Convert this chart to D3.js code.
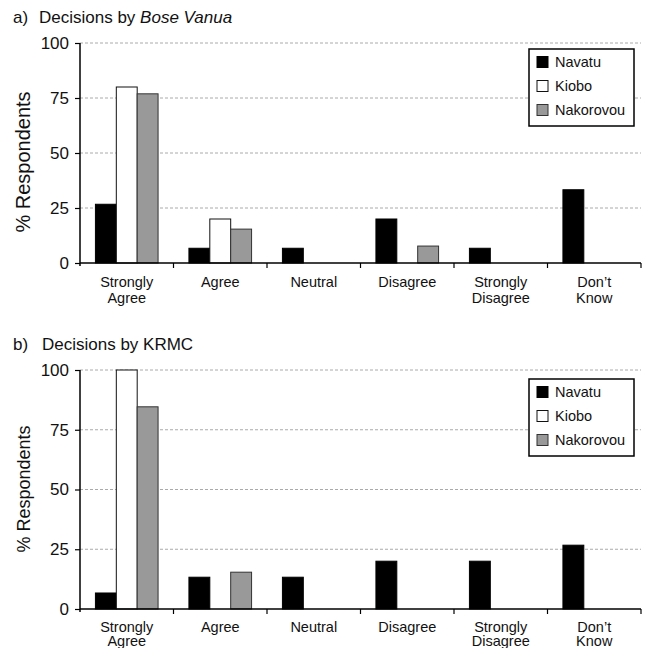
<!DOCTYPE html>
<html>
<head>
<meta charset="utf-8">
<script src="https://cdn.jsdelivr.net/npm/d3@7"></script>
<style>
  body { margin: 0; background: #fff; }
  svg text { font-family: "Liberation Sans", Arial, sans-serif; fill: #111; }
</style>
</head>
<body>
<div id="chart"></div>
<script>
'use strict'

// categories (second entry = optional second label line)
const categories = ['Strongly Agree', 'Agree', 'Neutral', 'Disagree', 'Strongly Disagree', "Don't Know"]
const categoryLines = [['Strongly', 'Agree'], ['Agree'], ['Neutral'], ['Disagree'], ['Strongly', 'Disagree'], ['Don\u2019t', 'Know']]
const series = ['Navatu', 'Kiobo', 'Nakorovou']
const yTicks = [0, 25, 50, 75, 100]

// a) Decisions by Bose Vanua
const boseNavatu = [26.7, 6.7, 6.7, 20, 6.7, 33.3]
const boseKiobo = [80, 20, 0, 0, 0, 0]
const boseNakorovou = [76.9, 15.4, 0, 7.7, 0, 0]

// b) Decisions by KRMC
const krmcNavatu = [6.7, 13.3, 13.3, 20, 20, 26.7]
const krmcKiobo = [100, 0, 0, 0, 0, 0]
const krmcNakorovou = [84.6, 15.4, 0, 0, 0, 0]

const fills = { Navatu: '#000000', Kiobo: '#ffffff', Nakorovou: '#999999' }
const strokes = { Navatu: '#000000', Kiobo: '#111111', Nakorovou: '#333333' }

const svgWidth = 646, svgHeight = 648

const svg = d3.select('#chart')
    .append('svg')
    .attr('width', svgWidth)
    .attr('height', svgHeight)

////////////////////////////////////
//////////// panels ////////////////
////////////////////////////////////

const panels = [
    { label: 'a)', title: ['Decisions by ', 'Bose Vanua'], titleY: 23, titleX: 39,
      values: [boseNavatu, boseKiobo, boseNakorovou],
      top: 43, bottom: 263, yLabelY: 162, yLabelSize: 20, legendTop: 49,
      catOffset: 24, catLine: 16 },
    { label: 'b)', title: ['Decisions by KRMC', ''], titleY: 350, titleX: 42,
      values: [krmcNavatu, krmcKiobo, krmcNakorovou],
      top: 370, bottom: 609, yLabelY: 489, yLabelSize: 18, legendTop: 379,
      catOffset: 22.5, catLine: 14.5 }
]

const left = 80, right = 641

panels.forEach(p => {
    const g = svg.append('g')

    const x = d3.scaleBand()
        .domain(categories)
        .range([left, right])
        .paddingInner(0.33)
        .paddingOuter(0.165)

    const xs = d3.scaleBand()
        .domain(series)
        .range([0, x.bandwidth()])

    const y = d3.scaleLinear()
        .domain([0, 100])
        .range([p.bottom, p.top])

    // title
    const t = g.append('text')
        .attr('y', p.titleY)
        .style('font-size', '17px')
    t.append('tspan').attr('x', 13).text(p.label)
    t.append('tspan').attr('x', p.titleX).text(p.title[0])
    t.append('tspan').style('font-style', 'italic').text(p.title[1])

    // dashed grid
    g.append('g')
        .selectAll('line')
        .data(yTicks.filter(d => d > 0))
        .join('line')
        .attr('x1', left)
        .attr('x2', right)
        .attr('y1', d => y(d))
        .attr('y2', d => y(d))
        .attr('stroke', '#aaaaaa')
        .attr('stroke-width', 1)
        .attr('stroke-dasharray', '3,2')

    // bars
    const rows = []
    series.forEach((s, si) => {
        p.values[si].forEach((v, ci) => {
            if (v > 0) rows.push({ s: s, c: categories[ci], v: v })
        })
    })

    g.append('g')
        .selectAll('rect')
        .data(rows)
        .join('rect')
        .attr('x', d => x(d.c) + xs(d.s))
        .attr('y', d => y(d.v))
        .attr('width', xs.bandwidth())
        .attr('height', d => y(0) - y(d.v))
        .attr('fill', d => fills[d.s])
        .attr('stroke', d => strokes[d.s])
        .attr('stroke-width', 1)

    // y axis
    const yAxis = g.append('g')
        .attr('transform', `translate(${left},0)`)
        .call(d3.axisLeft(y).tickValues(yTicks).tickSize(5).tickPadding(6))
    yAxis.select('.domain').attr('d', `M0,${p.top}V${p.bottom + 3}`).attr('stroke', '#000').attr('stroke-width', 1.5)
    yAxis.selectAll('.tick line').attr('stroke', '#000').attr('stroke-width', 1.2)
    yAxis.selectAll('.tick text')
        .style('font-size', '17px')
        .style('font-family', '"Liberation Sans", Arial, sans-serif')
        .attr('fill', '#111')

    // x axis: line with ticks at band boundaries
    g.append('line')
        .attr('x1', left)
        .attr('x2', right)
        .attr('y1', y(0))
        .attr('y2', y(0))
        .attr('stroke', '#000')
        .attr('stroke-width', 1.5)

    const bounds = categories.map(c => x(c) + x.bandwidth() + x.step() * x.paddingInner() / 2)
    g.append('g')
        .selectAll('line')
        .data(bounds)
        .join('line')
        .attr('x1', d => d)
        .attr('x2', d => d)
        .attr('y1', y(0))
        .attr('y2', y(0) + 5)
        .attr('stroke', '#000')
        .attr('stroke-width', 1.2)

    // category labels
    g.append('g')
        .selectAll('text')
        .data(categories)
        .join('text')
        .attr('text-anchor', 'middle')
        .style('font-size', '14.5px')
        .each(function (c, i) {
            d3.select(this).selectAll('tspan')
                .data(categoryLines[i])
                .join('tspan')
                .attr('x', x(c) + x.bandwidth() / 2)
                .attr('y', (d, j) => y(0) + p.catOffset + j * p.catLine)
                .text(d => d)
        })

    // y axis label
    g.append('text')
        .attr('transform', `translate(30,${p.yLabelY}) rotate(-90)`)
        .attr('text-anchor', 'middle')
        .style('font-size', p.yLabelSize + 'px')
        .text('% Respondents')

    // legend
    const lg = g.append('g').attr('transform', `translate(529,${p.legendTop})`)
    lg.append('rect')
        .attr('width', 105)
        .attr('height', 77)
        .attr('fill', '#fff')
        .attr('stroke', '#000')
        .attr('stroke-width', 1.5)

    const item = lg.selectAll('.item')
        .data(series)
        .join('g')
        .attr('class', 'item')
        .attr('transform', (d, i) => `translate(0,${13 + i * 24})`)
    item.append('rect')
        .attr('x', 8)
        .attr('y', -5.5)
        .attr('width', 11)
        .attr('height', 11)
        .attr('fill', d => fills[d])
        .attr('stroke', d => strokes[d])
        .attr('stroke-width', 1)
    item.append('text')
        .attr('x', 26)
        .attr('y', 5)
        .style('font-size', '14.5px')
        .text(d => d)
})
</script>
</body>
</html>
